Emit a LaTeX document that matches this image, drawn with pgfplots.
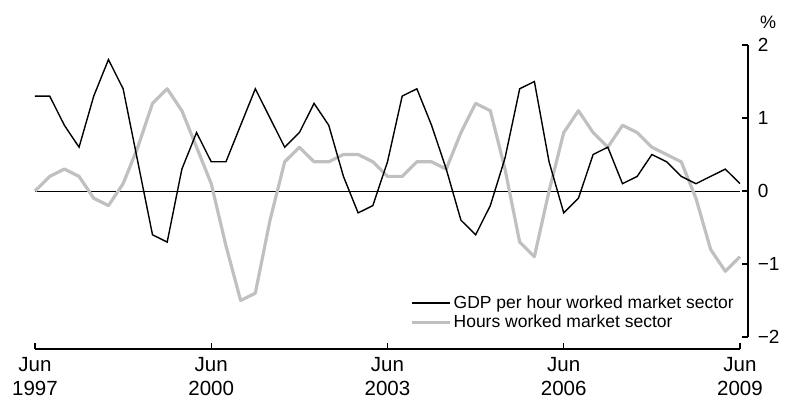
\documentclass[border=0pt]{standalone}
\usepackage{fontspec}
\setmainfont{Liberation Sans}
\usepackage{pgfplots}
\pgfplotsset{compat=1.18}
\definecolor{lgrey}{RGB}{192,192,192}
\begin{document}
\fontsize{17}{20}\selectfont
\begin{tikzpicture}
\path[use as bounding box] (0,0) rectangle (788pt,406pt);
% main axis: data + x axis
\begin{axis}[
  at={(35pt,57pt)}, anchor=south west,
  scale only axis, width=705pt, height=304pt,
  xmin=0, xmax=48, ymin=-2.1644, ymax=2,
  axis x line*=bottom, hide y axis,
  axis line style={line width=1.3pt},
  xtick={0,12,24,36,48},
  xticklabels={Jun\\1997,Jun\\2000,Jun\\2003,Jun\\2006,Jun\\2009},
  xticklabel style={align=center, font=\fontsize{20.5}{24}\selectfont, yshift=-7pt, inner sep=1pt},
  tick align=inside, major tick length=6pt,
  tick style={line width=1.2pt, black},
  clip=false,
  legend style={draw=none, fill=none, at={(axis description cs:0.528,0.19)}, anchor=north west,
    font=\fontsize{17.5}{20}\selectfont, row sep=0pt},
  legend cell align=left,
  legend image code/.code={\draw[#1] (0pt,0pt) -- (38pt,0pt);},
]
\addplot[black, line width=0.8pt, forget plot] coordinates {(0,0) (48,0)};
\addplot[lgrey, line width=3.2pt, line join=round, forget plot] coordinates {
(0,0.0)(1,0.2)(2,0.3)(3,0.2)(4,-0.1)(5,-0.2)(6,0.1)(7,0.6)(8,1.2)(9,1.4)
(10,1.1)(11,0.6)(12,0.1)(13,-0.75)(14,-1.5)(15,-1.4)(16,-0.4)(17,0.4)(18,0.6)(19,0.4)
(20,0.4)(21,0.5)(22,0.5)(23,0.4)(24,0.2)(25,0.2)(26,0.4)(27,0.4)(28,0.3)(29,0.8)
(30,1.2)(31,1.1)(32,0.3)(33,-0.7)(34,-0.9)(35,0.0)(36,0.8)(37,1.1)(38,0.8)(39,0.6)
(40,0.9)(41,0.8)(42,0.6)(43,0.5)(44,0.4)(45,-0.1)(46,-0.8)(47,-1.1)(48,-0.9)};
\addplot[black, line width=1.4pt, line join=miter] coordinates {
(0,1.3)(1,1.3)(2,0.9)(3,0.6)(4,1.3)(5,1.8)(6,1.4)(7,0.4)(8,-0.6)(9,-0.7)
(10,0.3)(11,0.8)(12,0.4)(13,0.4)(14,0.9)(15,1.4)(16,1.0)(17,0.6)(18,0.8)(19,1.2)
(20,0.9)(21,0.2)(22,-0.3)(23,-0.2)(24,0.4)(25,1.3)(26,1.4)(27,0.9)(28,0.3)(29,-0.4)
(30,-0.6)(31,-0.2)(32,0.45)(33,1.4)(34,1.5)(35,0.4)(36,-0.3)(37,-0.1)(38,0.5)(39,0.6)
(40,0.1)(41,0.2)(42,0.5)(43,0.4)(44,0.2)(45,0.1)(46,0.2)(47,0.3)(48,0.1)};
\addlegendentry{GDP per hour worked market sector}
\addlegendimage{lgrey, line width=3.2pt}
\addlegendentry{Hours worked market sector}
\end{axis}
% right y axis
\begin{axis}[
  at={(35pt,69pt)}, anchor=south west,
  scale only axis, width=713pt, height=292pt,
  xmin=0, xmax=1, ymin=-2, ymax=2,
  axis y line*=right, hide x axis,
  axis line style={line width=1.3pt},
  ytick={-2,-1,0,1,2},
  yticklabels={−2,−1,0,1,2},
  yticklabel style={font=\fontsize{19}{22}\selectfont, xshift=4pt},
  tick align=inside, major tick length=6pt,
  tick style={line width=1.2pt, black},
]
\end{axis}
\node[font=\fontsize{18}{20}\selectfont] at (768pt,384pt) {\%};
\end{tikzpicture}
\end{document}
